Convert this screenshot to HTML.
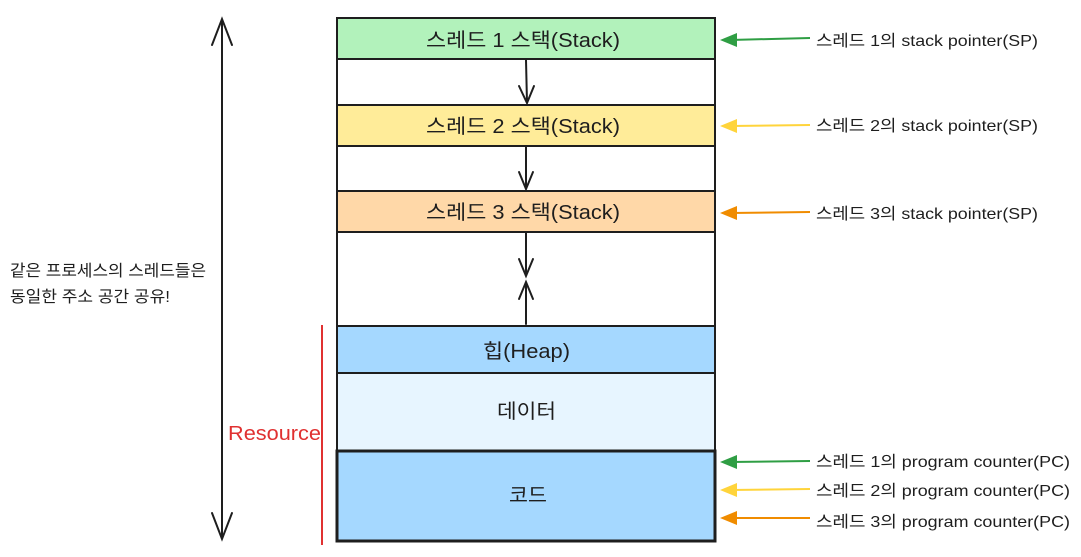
<!DOCTYPE html>
<html><head><meta charset="utf-8"><style>
html,body{margin:0;padding:0;background:#fff;width:1081px;height:557px;overflow:hidden}
text{font-family:"Liberation Sans","Noto Sans CJK KR",sans-serif;fill:#1e1e1e}
</style></head><body>
<svg width="1081" height="557" viewBox="0 0 1081 557" xmlns="http://www.w3.org/2000/svg">
<g stroke="#1e1e1e" stroke-width="2">
<rect x="337" y="18" width="378" height="41" fill="#b2f2bb"/>
<rect x="337" y="59" width="378" height="46" fill="#fff"/>
<rect x="337" y="105" width="378" height="41" fill="#ffec99"/>
<rect x="337" y="146" width="378" height="45" fill="#fff"/>
<rect x="337" y="191" width="378" height="41" fill="#ffd8a8"/>
<rect x="337" y="232" width="378" height="94" fill="#fff"/>
<rect x="337" y="326" width="378" height="47" fill="#a5d8ff"/>
<rect x="337" y="373" width="378" height="78" fill="#e7f5ff"/>
<rect x="337" y="451" width="378" height="90" fill="#a5d8ff" stroke-width="3"/>
</g>
<g stroke="#1e1e1e" stroke-width="2" fill="none" stroke-linecap="round">
<path d="M526 60 L527 103 M519 86 L527 103 L534 86"/>
<path d="M526 147 L526 189 M519 172 L526 189 L533 172"/>
<path d="M526 233 L526 276 M519 259 L526 276 L533 259"/>
<path d="M526 324 L526 282 M519 299 L526 282 L533 299"/>
<path d="M222 19 L222 539 M212 45 L222 19 L232 45 M212 513 L222 539 L232 513"/>
</g>
<line x1="322" y1="325" x2="322" y2="545" stroke="#e03131" stroke-width="2"/>
<text x="228" y="440" font-size="20" textLength="93" lengthAdjust="spacingAndGlyphs" style="fill:#e03131">Resource</text>
<g font-size="20" lengthAdjust="spacingAndGlyphs">
<text x="426" y="47" textLength="194" lengthAdjust="spacingAndGlyphs">스레드 1 스택(Stack)</text>
<text x="426" y="133" textLength="194" lengthAdjust="spacingAndGlyphs">스레드 2 스택(Stack)</text>
<text x="426" y="219" textLength="194" lengthAdjust="spacingAndGlyphs">스레드 3 스택(Stack)</text>
<text x="483" y="358" textLength="87" lengthAdjust="spacingAndGlyphs">힙(Heap)</text>
<text x="497" y="418" textLength="59" lengthAdjust="spacingAndGlyphs">데이터</text>
<text x="509" y="502" textLength="38" lengthAdjust="spacingAndGlyphs">코드</text>
</g>
<g font-size="16">
<text x="10" y="276" textLength="196" lengthAdjust="spacingAndGlyphs">같은 프로세스의 스레드들은</text>
<text x="10" y="302" textLength="160" lengthAdjust="spacingAndGlyphs">동일한 주소 공간 공유!</text>
<text x="816" y="46" textLength="222" lengthAdjust="spacingAndGlyphs">스레드 1의 stack pointer(SP)</text>
<text x="816" y="131" textLength="222" lengthAdjust="spacingAndGlyphs">스레드 2의 stack pointer(SP)</text>
<text x="816" y="219" textLength="222" lengthAdjust="spacingAndGlyphs">스레드 3의 stack pointer(SP)</text>
<text x="816" y="467" textLength="254" lengthAdjust="spacingAndGlyphs">스레드 1의 program counter(PC)</text>
<text x="816" y="496" textLength="254" lengthAdjust="spacingAndGlyphs">스레드 2의 program counter(PC)</text>
<text x="816" y="527" textLength="254" lengthAdjust="spacingAndGlyphs">스레드 3의 program counter(PC)</text>
</g>
<g stroke-width="2">
<path d="M810 38 L730 40" stroke="#2f9e44"/><path d="M720 40 L737 33 L737 47Z" fill="#2f9e44"/>
<path d="M810 125 L730 126" stroke="#ffd43b"/><path d="M720 126 L737 119 L737 133Z" fill="#ffd43b"/>
<path d="M810 212 L730 213" stroke="#f08c00"/><path d="M720 213 L737 206 L737 220Z" fill="#f08c00"/>
<path d="M810 461 L730 462" stroke="#2f9e44"/><path d="M720 462 L737 455 L737 469Z" fill="#2f9e44"/>
<path d="M810 489 L730 490" stroke="#ffd43b"/><path d="M720 490 L737 483 L737 497Z" fill="#ffd43b"/>
<path d="M810 518 L730 518" stroke="#f08c00"/><path d="M720 518 L737 511 L737 525Z" fill="#f08c00"/>
</g>
</svg>
</body></html>
